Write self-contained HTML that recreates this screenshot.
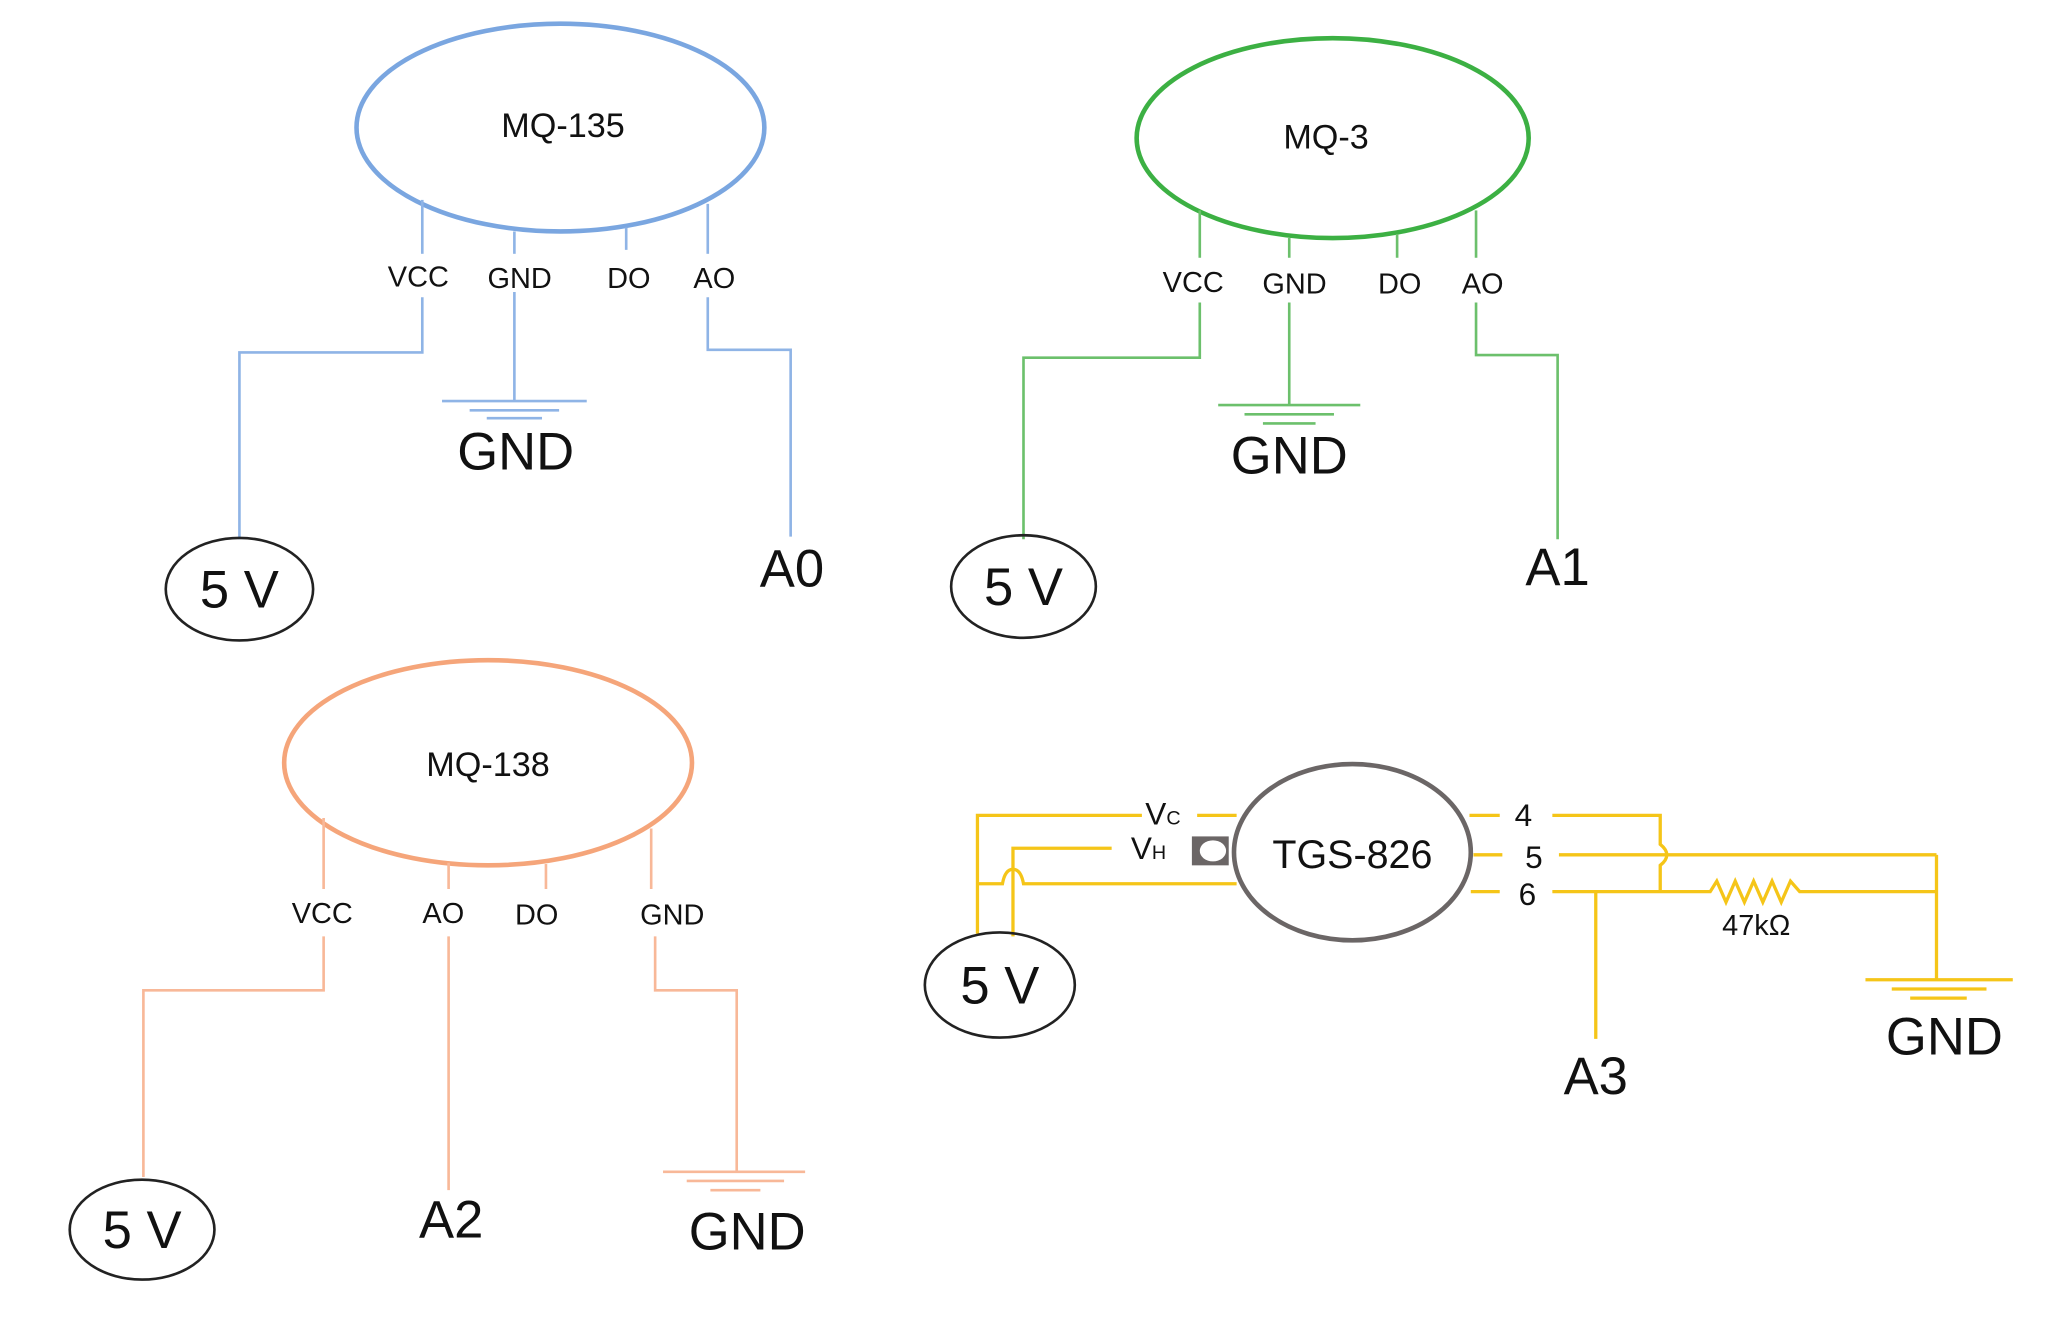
<!DOCTYPE html>
<html><head><meta charset="utf-8"><style>
html,body{margin:0;padding:0;background:#fff;}
svg{display:block;}
text{font-family:"Liberation Sans",sans-serif;fill:#111;text-anchor:middle;}
</style></head><body>
<svg width="2047" height="1323" viewBox="0 0 1556 1006" preserveAspectRatio="none" xmlns="http://www.w3.org/2000/svg">
<rect width="1556" height="1006" fill="#fff"/>
<!-- MQ-135 -->
<g stroke="#8fb4e6" stroke-width="2" fill="none">
<ellipse cx="426" cy="97" rx="155" ry="79" stroke="#7aa6e0" stroke-width="3.5"/>
<line x1="321" y1="152" x2="321" y2="193"/><line x1="391" y1="176" x2="391" y2="193"/>
<line x1="476" y1="173" x2="476" y2="190"/><line x1="538" y1="155" x2="538" y2="193"/>
<polyline points="321,226 321,268 182,268 182,410"/>
<line x1="391" y1="222" x2="391" y2="305"/>
<line x1="336" y1="305" x2="446" y2="305"/><line x1="357" y1="312" x2="425" y2="312"/><line x1="370" y1="318" x2="412" y2="318"/>
<polyline points="538,226 538,266 601,266 601,408"/>
</g>
<text x="428" y="104" font-size="26">MQ-135</text>
<text x="318" y="218" font-size="22">VCC</text><text x="395" y="219" font-size="22">GND</text>
<text x="478" y="219" font-size="22">DO</text><text x="543" y="219" font-size="22">AO</text>
<text x="392" y="357" font-size="40">GND</text>
<text x="602" y="446" font-size="40">A0</text>
<ellipse cx="182" cy="448" rx="56" ry="39" fill="none" stroke="#222" stroke-width="2"/>
<text x="182" y="462" font-size="40">5 V</text>
<!-- MQ-3 -->
<g stroke="#6cc06c" stroke-width="2" fill="none">
<ellipse cx="1013" cy="105" rx="149" ry="76" stroke="#3cb043" stroke-width="3.5"/>
<line x1="912" y1="160" x2="912" y2="196"/><line x1="980" y1="181" x2="980" y2="196"/>
<line x1="1062" y1="178" x2="1062" y2="196"/><line x1="1122" y1="160" x2="1122" y2="196"/>
<polyline points="912,230 912,272 778,272 778,410"/>
<line x1="980" y1="230" x2="980" y2="308"/>
<line x1="926" y1="308" x2="1034" y2="308"/><line x1="946" y1="315" x2="1014" y2="315"/><line x1="960" y1="322" x2="1000" y2="322"/>
<polyline points="1122,230 1122,270 1184,270 1184,410"/>
</g>
<text x="1008" y="113" font-size="26">MQ-3</text>
<text x="907" y="222" font-size="22">VCC</text><text x="984" y="223" font-size="22">GND</text>
<text x="1064" y="223" font-size="22">DO</text><text x="1127" y="223" font-size="22">AO</text>
<text x="980" y="360" font-size="40">GND</text>
<text x="1184" y="445" font-size="40">A1</text>
<ellipse cx="778" cy="446" rx="55" ry="39" fill="none" stroke="#222" stroke-width="2"/>
<text x="778" y="460" font-size="40">5 V</text>
<!-- MQ-138 -->
<g stroke="#f8b898" stroke-width="2" fill="none">
<ellipse cx="371" cy="580" rx="155" ry="78" stroke="#f5a57a" stroke-width="3.5"/>
<line x1="246" y1="622" x2="246" y2="676"/><line x1="341" y1="656" x2="341" y2="676"/>
<line x1="415" y1="657" x2="415" y2="676"/><line x1="495" y1="630" x2="495" y2="676"/>
<polyline points="246,712 246,753 109,753 109,895"/>
<line x1="341" y1="712" x2="341" y2="905"/>
<polyline points="498,712 498,753 560,753 560,891"/>
<line x1="504" y1="891" x2="612" y2="891"/><line x1="522" y1="898" x2="596" y2="898"/><line x1="540" y1="905" x2="578" y2="905"/>
</g>
<text x="371" y="590" font-size="26">MQ-138</text>
<text x="245" y="702" font-size="22">VCC</text><text x="337" y="702" font-size="22">AO</text>
<text x="408" y="703" font-size="22">DO</text><text x="511" y="703" font-size="22">GND</text>
<text x="343" y="941" font-size="40">A2</text>
<text x="568" y="950" font-size="40">GND</text>
<ellipse cx="108" cy="935" rx="55" ry="38" fill="none" stroke="#222" stroke-width="2"/>
<text x="108" y="949" font-size="40">5 V</text>
<!-- TGS-826 -->
<g stroke="#f5c518" stroke-width="2.5" fill="none">
<polyline points="868,620 743,620 743,710"/>
<line x1="910" y1="620" x2="940" y2="620"/>
<polyline points="845,645 770,645 770,712"/>
<path d="M743,672 H762 Q764,661 770,661 Q776,661 778,672 H940"/>
<line x1="1117" y1="620" x2="1140" y2="620"/>
<path d="M1180,620 H1262 V642 Q1272,650 1262,658 V678"/>
<line x1="1120" y1="650" x2="1142" y2="650"/>
<line x1="1185" y1="650" x2="1472" y2="650"/>
<line x1="1118" y1="678" x2="1140" y2="678"/>
<polyline points="1180,678 1300,678 1305,670 1312,686 1319,670 1326,686 1333,670 1340,686 1347,670 1354,686 1361,670 1368,678 1472,678"/>
<line x1="1472" y1="650" x2="1472" y2="745"/>
<line x1="1418" y1="745" x2="1530" y2="745"/><line x1="1438" y1="752" x2="1510" y2="752"/><line x1="1452" y1="759" x2="1495" y2="759"/>
<line x1="1213" y1="678" x2="1213" y2="790"/>
</g>
<ellipse cx="1028" cy="648" rx="90" ry="67" fill="none" stroke="#6b6666" stroke-width="3.5"/>
<rect x="906" y="636" width="28" height="22" fill="#6b6666"/>
<ellipse cx="922" cy="647" rx="10" ry="8" fill="#fff"/>
<text x="1028" y="660" font-size="30">TGS-826</text>
<text x="884" y="627" font-size="24">V<tspan font-size="15">C</tspan></text>
<text x="873" y="653" font-size="24">V<tspan font-size="15">H</tspan></text>
<text x="1158" y="628" font-size="24">4</text>
<text x="1166" y="660" font-size="24">5</text>
<text x="1161" y="688" font-size="24">6</text>
<text x="1335" y="711" font-size="22">47kΩ</text>
<text x="1478" y="802" font-size="40">GND</text>
<text x="1213" y="832" font-size="40">A3</text>
<ellipse cx="760" cy="749" rx="57" ry="40" fill="none" stroke="#222" stroke-width="2"/>
<text x="760" y="763" font-size="40">5 V</text>
</svg>
</body></html>
